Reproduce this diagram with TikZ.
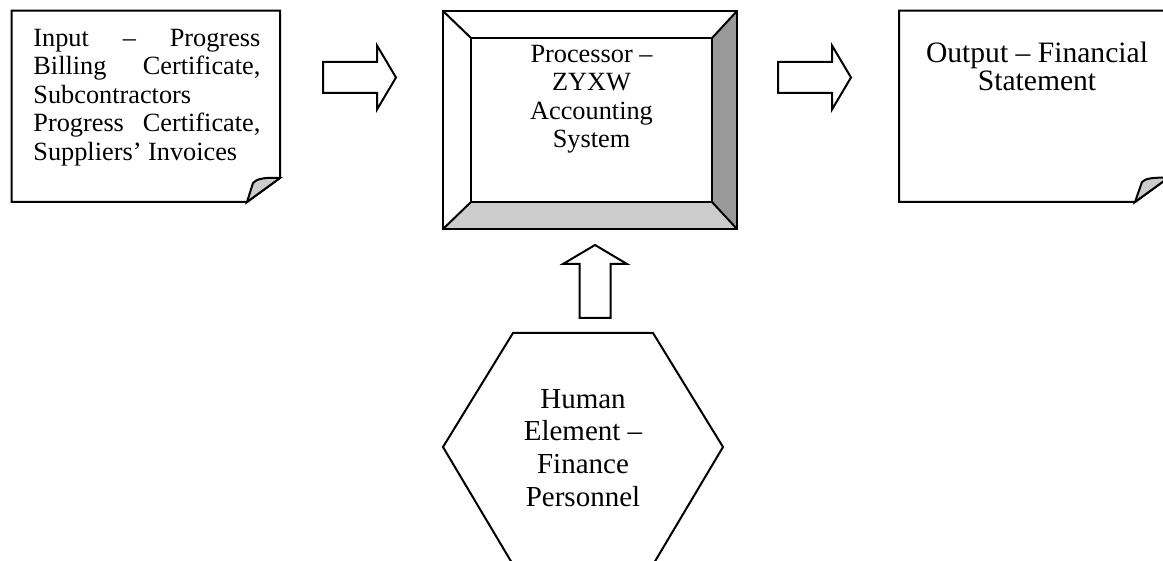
\documentclass[tikz,border=0pt]{standalone}
\usepackage{fontspec}
\setmainfont{Liberation Serif}
\begin{document}
\begin{tikzpicture}[x=0.5pt,y=-0.5pt]
\tikzset{
  outline/.style={draw=black, line width=1pt, line join=miter},
  smalltxt/.style={font=\fontsize{13.15}{14.25}\selectfont, inner sep=0pt},
  outtxtstyle/.style={font=\fontsize{14.8}{14}\selectfont, inner sep=0pt},
  bigtxt/.style={font=\fontsize{14.5}{16.3}\selectfont, inner sep=0pt},
  blockarrow/.pic={
    \draw[outline, fill=white] (0,-15.5) -- (54,-15.5) -- (54,-32) -- (73,0)
      -- (54,32) -- (54,15.5) -- (0,15.5) -- cycle;
  }
}
\useasboundingbox (0,0) rectangle (1163,561);
\clip (0,0) rectangle (1163,561);

% ---- input document ----
\draw[outline, fill=white] (11.7,10.7) -- (280,10.7) -- (280,178) -- (247,202) -- (11.7,202) -- cycle;
\filldraw[outline, fill=gray!40] (247,202) -- (253,183) .. controls (256,179) and (265,177) .. (280,178) -- cycle;
\node[smalltxt, anchor=north west, align=left] (inputtxt) at (33,26)
  {\strut\makebox[113.5pt][s]{Input \textendash{} Progress}\\
   \makebox[113.5pt][s]{Billing Certificate,}\\
   Subcontractors\\
   \makebox[113.5pt][s]{Progress Certificate,}\\
   Suppliers' Invoices};

% ---- processor (bevelled box) ----
\fill[gray!80] (737,11) -- (712,38) -- (712,202) -- (737,229) -- cycle;
\fill[gray!40] (443,229) -- (471,202) -- (712,202) -- (737,229) -- cycle;
\draw[outline] (443,11) rectangle (737,229);
\draw[outline] (471,38) rectangle (712,202);
\draw[outline] (443,11) -- (471,38) (737,11) -- (712,38)
               (443,229) -- (471,202) (737,229) -- (712,202);
\node[smalltxt, align=center, anchor=north] (proctxt) at (591.5,42)
  {\strut Processor \textendash\\ZYXW\\Accounting\\System};

% ---- output document ----
\draw[outline, fill=white] (899,10.7) -- (1168,10.7) -- (1168,178) -- (1135,202) -- (899,202) -- cycle;
\filldraw[outline, fill=gray!40] (1135,202) -- (1142,182) .. controls (1145,178.5) and (1154,177) .. (1168,178) -- cycle;
\node[outtxtstyle, align=center, anchor=north] (outtxt) at (1037,41.4)
  {\strut Output \textendash{} Financial\\Statement};

% ---- human element (hexagon) ----
\draw[outline] (513,333) -- (653,333) -- (723,447) -- (654,563) -- (512,563) -- (443,447) -- cycle;
\node[bigtxt, align=center, anchor=north] (humantxt) at (583,385)
  {\strut Human\\Element \textendash\\Finance\\Personnel};

% ---- block arrows ----
\pic at (323,77.5) {blockarrow};
\pic at (778,77.5) {blockarrow};
\pic[rotate=90] at (595,318) {blockarrow};
\end{tikzpicture}
\end{document}
